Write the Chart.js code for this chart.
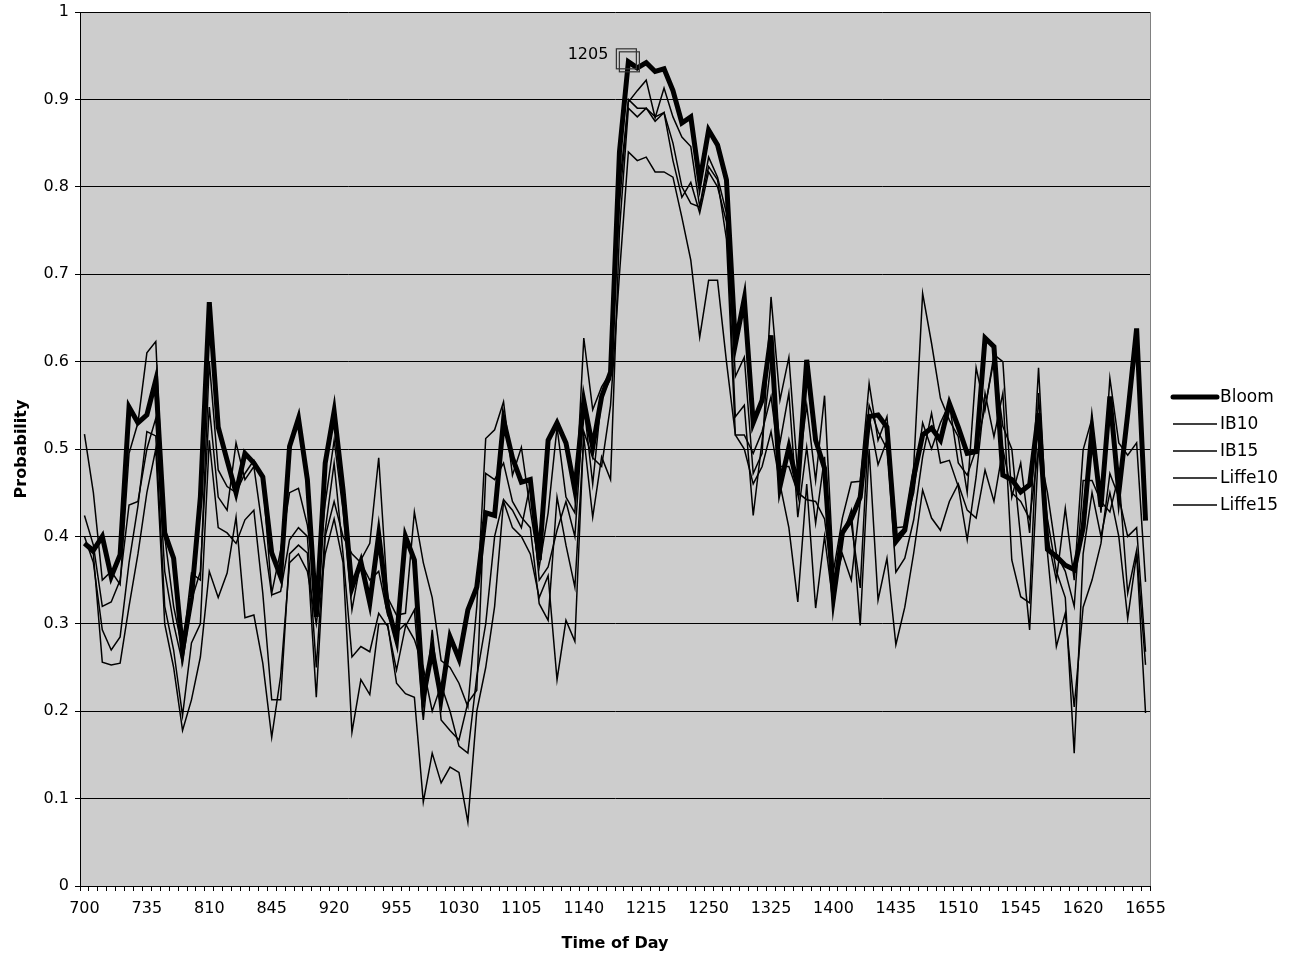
<!DOCTYPE html>
<html>
<head>
<meta charset="utf-8">
<script src="https://cdn.jsdelivr.net/npm/chart.js@4.4.1/dist/chart.umd.min.js"></script>
<style>
  html, body { margin: 0; padding: 0; background: #ffffff; }
  #wrap { width: 1289px; height: 958px; }
</style>
</head>
<body>
<div id="wrap"><canvas id="chart" width="1289" height="958"></canvas></div>
<script>
// Time of day categories (5 minute steps)
const timeLabels = [
  '700','705','710','715','720','725','730','735','740','745','750','755',
  '800','805','810','815','820','825','830','835','840','845','850','855',
  '900','905','910','915','920','925','930','935','940','945','950','955',
  '1000','1005','1010','1015','1020','1025','1030','1035','1040','1045','1050','1055',
  '1100','1105','1110','1115','1120','1125','1130','1135','1140','1145','1150','1155',
  '1200','1205','1210','1215','1220','1225','1230','1235','1240','1245','1250','1255',
  '1300','1305','1310','1315','1320','1325','1330','1335','1340','1345','1350','1355',
  '1400','1405','1410','1415','1420','1425','1430','1435','1440','1445','1450','1455',
  '1500','1505','1510','1515','1520','1525','1530','1535','1540','1545','1550','1555',
  '1600','1605','1610','1615','1620','1625','1630','1635','1640','1645','1650','1655'
];

// Labels shown under the x axis
const xTickLabels = ['700','735','810','845','920','955','1030','1105','1140','1215',
  '1250','1325','1400','1435','1510','1545','1620','1655'];
const yTickLabels = ['0','0.1','0.2','0.3','0.4','0.5','0.6','0.7','0.8','0.9','1'];

// Series values
const bloom = [
  0.392,0.384,0.400,0.354,0.379,0.548,0.530,0.539,0.579,0.404,0.375,0.270,
  0.330,0.445,0.668,0.525,0.487,0.450,0.495,0.484,0.468,0.381,0.354,0.503,
  0.535,0.465,0.308,0.484,0.543,0.453,0.341,0.371,0.324,0.402,0.320,0.282,
  0.400,0.373,0.216,0.270,0.215,0.285,0.260,0.316,0.342,0.427,0.424,0.533,
  0.490,0.462,0.465,0.373,0.510,0.530,0.507,0.453,0.555,0.502,0.560,0.588,
  0.840,0.943,0.936,0.942,0.932,0.935,0.910,0.873,0.880,0.806,0.865,0.848,
  0.808,0.620,0.672,0.530,0.556,0.630,0.457,0.502,0.457,0.602,0.510,0.478,
  0.330,0.404,0.420,0.445,0.537,0.539,0.525,0.394,0.407,0.468,0.516,0.524,
  0.510,0.552,0.525,0.495,0.497,0.627,0.617,0.470,0.465,0.451,0.459,0.541,
  0.385,0.377,0.367,0.362,0.410,0.522,0.434,0.560,0.450,0.540,0.638,0.418
];
const ib10 = [
  0.517,0.45,0.35,0.36,0.345,0.495,0.53,0.61,0.623,0.40,0.32,0.27,
  0.358,0.35,0.60,0.476,0.457,0.45,0.472,0.487,0.465,0.335,0.384,0.45,
  0.455,0.413,0.335,0.438,0.51,0.43,0.316,0.373,0.392,0.49,0.33,0.31,
  0.312,0.428,0.37,0.33,0.258,0.25,0.232,0.205,0.32,0.512,0.522,0.554,
  0.47,0.502,0.43,0.365,0.427,0.525,0.445,0.427,0.627,0.545,0.571,0.588,
  0.80,0.897,0.91,0.922,0.879,0.913,0.88,0.857,0.846,0.777,0.834,0.811,
  0.77,0.583,0.605,0.472,0.495,0.674,0.556,0.605,0.47,0.55,0.464,0.561,
  0.36,0.421,0.462,0.463,0.575,0.51,0.537,0.41,0.411,0.48,0.678,0.621,
  0.558,0.533,0.514,0.45,0.593,0.545,0.608,0.60,0.445,0.484,0.404,0.593,
  0.40,0.35,0.432,0.35,0.499,0.535,0.427,0.581,0.507,0.493,0.507,0.348
];
const ib15 = [
  0.424,0.39,0.32,0.325,0.35,0.436,0.44,0.50,0.535,0.36,0.30,0.255,
  0.327,0.36,0.548,0.445,0.43,0.507,0.465,0.48,0.407,0.333,0.337,0.396,
  0.41,0.40,0.25,0.407,0.484,0.38,0.262,0.274,0.268,0.312,0.297,0.247,
  0.297,0.316,0.19,0.293,0.19,0.178,0.167,0.21,0.224,0.472,0.465,0.484,
  0.44,0.422,0.41,0.323,0.304,0.445,0.39,0.342,0.514,0.422,0.491,0.465,
  0.75,0.89,0.88,0.89,0.875,0.885,0.83,0.788,0.805,0.77,0.817,0.80,
  0.76,0.537,0.55,0.424,0.51,0.60,0.507,0.564,0.422,0.502,0.415,0.491,
  0.33,0.404,0.415,0.341,0.537,0.482,0.51,0.359,0.375,0.419,0.491,0.541,
  0.484,0.487,0.457,0.396,0.468,0.564,0.514,0.564,0.373,0.331,0.324,0.564,
  0.381,0.274,0.312,0.205,0.319,0.35,0.392,0.472,0.445,0.40,0.41,0.268
];
const liffe10 = [
  0.40,0.37,0.293,0.27,0.285,0.37,0.435,0.52,0.515,0.32,0.27,0.195,
  0.278,0.30,0.51,0.41,0.404,0.392,0.419,0.43,0.335,0.213,0.213,0.38,
  0.39,0.381,0.216,0.40,0.44,0.40,0.38,0.37,0.35,0.36,0.31,0.29,
  0.30,0.282,0.25,0.20,0.23,0.20,0.16,0.152,0.24,0.30,0.40,0.442,
  0.43,0.41,0.46,0.35,0.365,0.407,0.44,0.40,0.552,0.46,0.56,0.58,
  0.78,0.90,0.89,0.89,0.88,0.885,0.85,0.80,0.781,0.777,0.823,0.808,
  0.74,0.516,0.516,0.495,0.52,0.56,0.48,0.48,0.45,0.442,0.44,0.42,
  0.34,0.38,0.35,0.44,0.55,0.52,0.50,0.40,0.41,0.45,0.53,0.50,
  0.53,0.552,0.484,0.47,0.50,0.548,0.602,0.526,0.50,0.398,0.293,0.502,
  0.45,0.38,0.36,0.32,0.464,0.464,0.44,0.428,0.47,0.335,0.384,0.253
];
const liffe15 = [
  0.39,0.38,0.256,0.253,0.255,0.32,0.38,0.45,0.50,0.30,0.25,0.178,
  0.213,0.262,0.36,0.33,0.358,0.422,0.307,0.31,0.255,0.17,0.24,0.37,
  0.38,0.36,0.30,0.38,0.42,0.37,0.176,0.236,0.219,0.30,0.30,0.232,
  0.22,0.216,0.096,0.152,0.118,0.136,0.13,0.073,0.20,0.25,0.32,0.44,
  0.41,0.40,0.38,0.33,0.355,0.236,0.304,0.28,0.52,0.49,0.48,0.55,
  0.70,0.84,0.83,0.834,0.817,0.817,0.811,0.765,0.716,0.628,0.693,0.693,
  0.60,0.516,0.50,0.46,0.48,0.52,0.46,0.41,0.325,0.46,0.318,0.40,
  0.32,0.40,0.43,0.298,0.50,0.327,0.375,0.276,0.319,0.381,0.453,0.421,
  0.407,0.44,0.46,0.43,0.421,0.476,0.44,0.50,0.45,0.44,0.42,0.50,
  0.42,0.36,0.33,0.152,0.38,0.45,0.40,0.45,0.40,0.306,0.38,0.198
];

const seriesNames = ['Bloom', 'IB10', 'IB15', 'Liffe10', 'Liffe15'];
const seriesData = [bloom, ib10, ib15, liffe10, liffe15];
const seriesWidths = [5, 1.5, 1.5, 1.5, 1.5];

// Point that carries the data label
const labelledPoint = '1205';

const FONT = "'DejaVu Sans', Verdana, sans-serif";
Chart.defaults.font.family = FONT;
Chart.defaults.color = '#000000';

// Gray plot area + gray border on the right
const plotArea = {
    id: 'plotArea',
    beforeDraw(chart) {
        const { ctx, chartArea: a } = chart;
        ctx.save();
        ctx.fillStyle = '#cdcdcd';
        ctx.fillRect(a.left, a.top, a.right - a.left, a.bottom - a.top);
        ctx.restore();
    },
    afterDatasetsDraw(chart) {
        const { ctx, chartArea: a } = chart;
        ctx.save();
        ctx.strokeStyle = '#808080';
        ctx.lineWidth = 1;
        ctx.beginPath();
        ctx.moveTo(a.right + 0.5, a.top);
        ctx.lineTo(a.right + 0.5, a.bottom);
        ctx.stroke();
        ctx.restore();
    }
};

// Double square marker + "1205" label on the Bloom peak
const peakLabel = {
    id: 'peakLabel',
    afterDatasetsDraw(chart) {
        const idx = timeLabels.indexOf(labelledPoint);
        const px = chart.scales.x.getPixelForValue(idx);
        const py = chart.scales.y.getPixelForValue(bloom[idx]);
        const { ctx } = chart;
        ctx.save();
        ctx.strokeStyle = '#333333';
        ctx.lineWidth = 1.2;
        ctx.strokeRect(px - 12, py - 13, 20, 20);
        ctx.strokeRect(px - 9, py - 10, 20, 20);
        ctx.fillStyle = '#000';
        ctx.font = '16px ' + FONT;
        ctx.textAlign = 'right';
        ctx.textBaseline = 'middle';
        ctx.fillText(labelledPoint, px - 20, py - 7);
        ctx.restore();
    }
};

// Legend on the right, like the original
const sideLegend = {
    id: 'sideLegend',
    afterDraw(chart) {
        const { ctx, chartArea: a } = chart;
        const x0 = a.right + 23;
        const y0 = 397;
        const step = 27;
        ctx.save();
        ctx.font = '17px ' + FONT;
        ctx.textBaseline = 'middle';
        ctx.textAlign = 'left';
        ctx.fillStyle = '#000';
        seriesNames.forEach((name, i) => {
            const y = y0 + i * step;
            ctx.strokeStyle = '#000';
            ctx.lineWidth = seriesWidths[i];
            ctx.lineCap = i === 0 ? 'round' : 'butt';
            ctx.beginPath();
            ctx.moveTo(x0, y);
            ctx.lineTo(x0 + 44, y);
            ctx.stroke();
            ctx.fillText(name, x0 + 47, y + 1);
        });
        ctx.restore();
    }
};

const ctx = document.getElementById('chart').getContext('2d');
new Chart(ctx, {
    type: 'line',
    data: {
        labels: timeLabels,
        datasets: seriesNames.map((name, i) => ({
            label: name,
            data: seriesData[i],
            borderColor: '#000000',
            borderWidth: seriesWidths[i],
            pointRadius: 0,
            tension: 0,
            fill: false,
            borderJoinStyle: 'miter'
        }))
    },
    options: {
        responsive: false,
        animation: false,
        devicePixelRatio: 1,
        layout: { padding: { top: 12, right: 139, bottom: 0, left: 0 } },
        plugins: {
            legend: { display: false },
            tooltip: { enabled: false }
        },
        scales: {
            x: {
                offset: true,
                ticks: {
                    autoSkip: false,
                    maxRotation: 0,
                    minRotation: 0,
                    padding: 8,
                    color: '#000',
                    font: { size: 16 },
                    callback: (v, i) => xTickLabels.includes(timeLabels[i]) ? timeLabels[i] : ''
                },
                grid: { offset: true, drawOnChartArea: false, color: '#000', tickLength: 5 },
                border: { color: '#000', width: 1 },
                title: {
                    display: true, text: 'Time of Day', color: '#000',
                    font: { size: 16, weight: 'bold' }, padding: { top: 4, bottom: 5 }
                },
                afterFit: s => { s.height = 72; s.paddingLeft = 0; s.paddingRight = 0; }
            },
            y: {
                min: 0,
                max: 1,
                ticks: {
                    stepSize: 0.1,
                    padding: 6,
                    color: '#000',
                    font: { size: 16 },
                    callback: (v, i) => yTickLabels[i]
                },
                grid: { color: '#000', lineWidth: 1, tickLength: 5, tickColor: '#000' },
                border: { color: '#000', width: 1 },
                title: {
                    display: true, text: 'Probability', color: '#000',
                    font: { size: 16, weight: 'bold' }, padding: { top: 12, bottom: 4 }
                },
                afterFit: s => { s.width = 80; s.paddingTop = 0; s.paddingBottom = 0; }
            }
        }
    },
    plugins: [plotArea, peakLabel, sideLegend]
});
</script>
</body>
</html>
